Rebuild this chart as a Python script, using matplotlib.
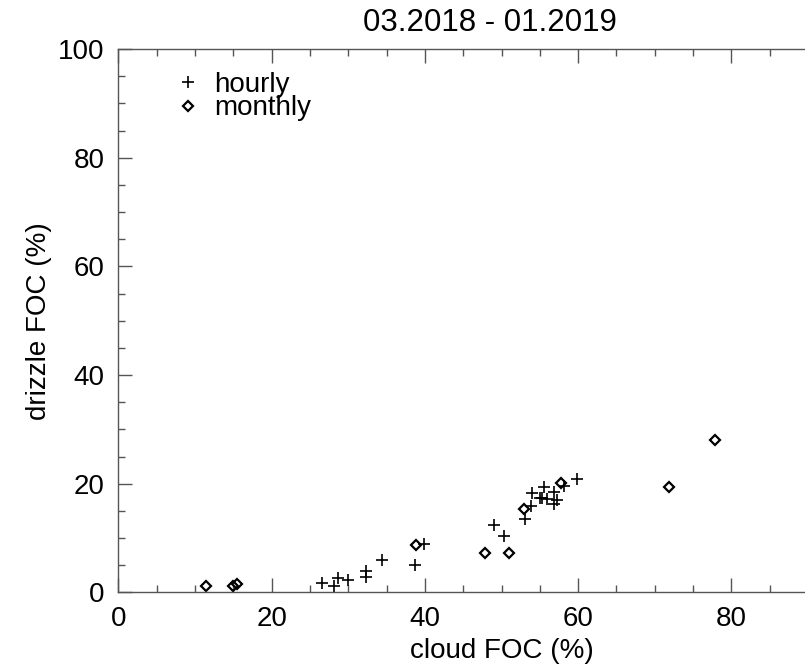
import matplotlib
matplotlib.use("Agg")
import matplotlib.pyplot as plt
from matplotlib.ticker import MultipleLocator
from matplotlib.lines import Line2D

plt.rcParams["font.family"] = ["Liberation Sans", "DejaVu Sans"]

# hourly cloud / drizzle frequency of occurrence (%)
hourly_cloud = [26.6, 28.2, 28.7, 30.0, 32.3, 32.3, 34.4, 38.7, 39.9, 49.0,
                50.3, 53.1, 53.8, 54.0, 55.0, 55.6, 55.3, 55.9, 56.8, 57.2,
                56.8, 58.1, 59.8]
hourly_drizzle = [1.8, 1.1, 2.6, 2.2, 3.9, 2.9, 5.9, 5.0, 8.9, 12.3,
                  10.3, 13.5, 15.8, 18.2, 17.4, 19.3, 17.3, 17.2, 18.4, 17.0,
                  16.2, 19.6, 20.9]

# monthly values
monthly_cloud = [11.5, 14.9, 15.5, 38.8, 47.8, 51.0, 52.9, 57.8, 71.8, 77.9]
monthly_drizzle = [1.1, 1.2, 1.5, 8.7, 7.3, 7.2, 15.4, 20.2, 19.4, 28.0]

fig = plt.figure(figsize=(8.05, 6.64), dpi=100)
ax = fig.add_axes([0.147, 0.108, 0.952, 0.818])

ax.plot(hourly_cloud, hourly_drizzle, linestyle="none", marker="+",
        markersize=8, markeredgewidth=1.2, color="black", clip_on=False)
ax.plot(monthly_cloud, monthly_drizzle, linestyle="none", marker="D",
        markersize=5, markeredgewidth=1.6, markerfacecolor="none",
        markeredgecolor="black", clip_on=False)

ax.set_xlim(0, 100)
ax.set_ylim(0, 100)
ax.xaxis.set_major_locator(MultipleLocator(20))
ax.xaxis.set_minor_locator(MultipleLocator(5))
ax.yaxis.set_major_locator(MultipleLocator(20))
ax.yaxis.set_minor_locator(MultipleLocator(5))
ax.tick_params(which="both", direction="in", top=True, right=True,
               color="#555555", labelsize=20, pad=10)
ax.tick_params(which="major", length=10, width=1)
ax.tick_params(which="minor", length=5, width=1)
for sp in ax.spines.values():
    sp.set_color("#555555")
    sp.set_linewidth(1)

# x=100 sits past the right edge of the canvas; its label would be clipped
fig.canvas.draw()
for lbl in ax.get_xticklabels():
    if lbl.get_text() == "100":
        lbl.set_visible(False)

ax.set_xlabel("cloud FOC (%)", fontsize=20, labelpad=4)
ax.set_ylabel("drizzle FOC (%)", fontsize=20, labelpad=4)
fig.text(0.609, 0.966, "03.2018 - 01.2019", fontsize=22.5, ha="center",
         va="center")

handles = [
    Line2D([], [], linestyle="none", marker="+", markersize=8,
           markeredgewidth=1.2, color="black", label="hourly"),
    Line2D([], [], linestyle="none", marker="D", markersize=5,
           markeredgewidth=1.6, markerfacecolor="none",
           markeredgecolor="black", label="monthly"),
]
ax.legend(handles=handles, loc="upper left", bbox_to_anchor=(0.058, 0.978),
          frameon=False, fontsize=20, handlelength=1.0, handletextpad=0.45,
          labelspacing=-0.1, borderaxespad=0)

fig.savefig("out.png", dpi=100)
